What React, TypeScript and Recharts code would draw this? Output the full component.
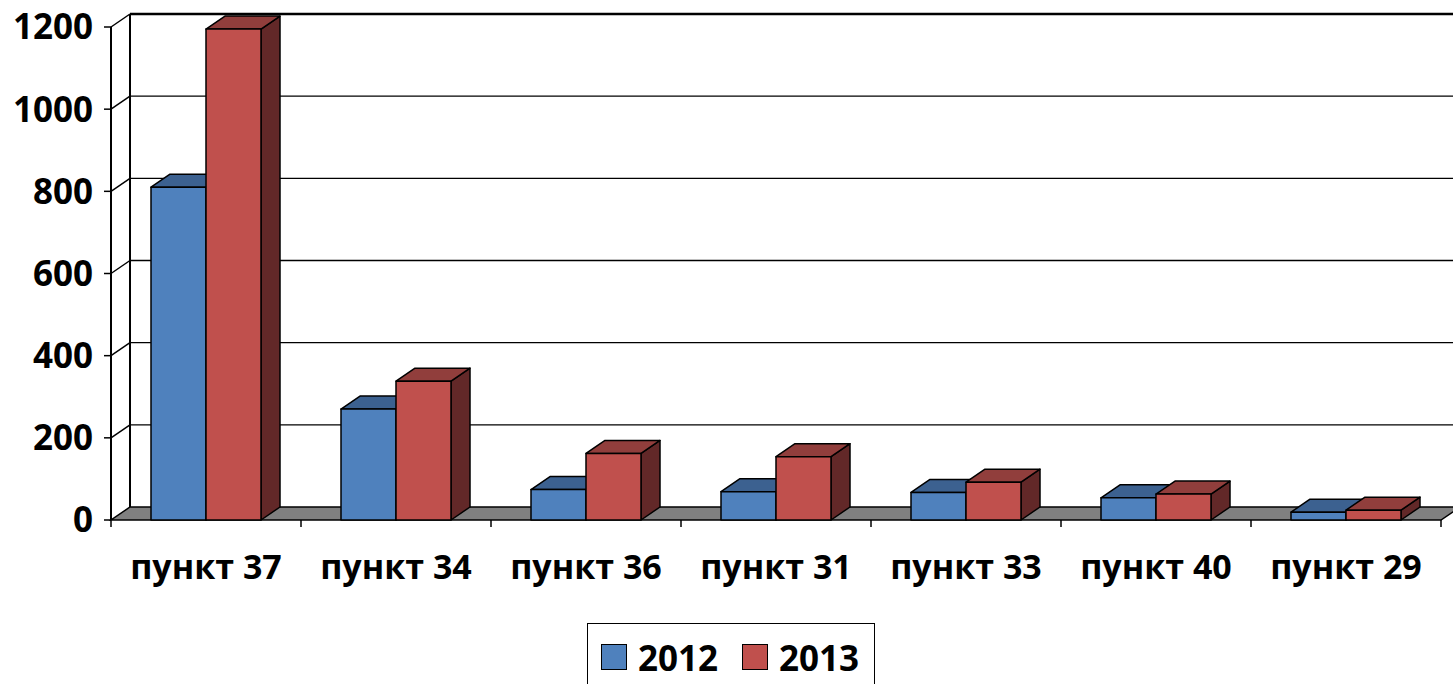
import React from 'react';
import { BarChart, Bar, XAxis, YAxis, CartesianGrid, Legend } from 'recharts';

const categories = ['пункт 37', 'пункт 34', 'пункт 36', 'пункт 31', 'пункт 33', 'пункт 40', 'пункт 29'];
const values2012 = [810, 270, 74, 69, 67, 54, 19];
const values2013 = [1195, 338, 162, 154, 92, 63, 24];
const yTicks = [0, 200, 400, 600, 800, 1000, 1200];
const seriesNames = ['2012', '2013'];

const data = categories.map((c, i) => ({ name: c, v2012: values2012[i], v2013: values2013[i] }));

const DX = 19;
const DY = 13;
const FONT = '"Open Sans", "Noto Sans", sans-serif';

const COLORS = {
  blue: { front: '#4F81BD', top: '#3C6190', side: '#2B4568' },
  red: { front: '#C0504D', top: '#913E3C', side: '#622828' },
};

const make3DBar = (c: { front: string; top: string; side: string }) => (props: any) => {
  const { x, y, width, height } = props;
  if (width == null || height == null) return <g />;
  const x2 = x + width;
  const yb = y + height;
  return (
    <g stroke="#000" strokeWidth={1.5} strokeLinejoin="round">
      <polygon points={`${x2},${y} ${x2 + DX},${y - DY} ${x2 + DX},${yb - DY} ${x2},${yb}`} fill={c.side} />
      <polygon points={`${x},${y} ${x2},${y} ${x2 + DX},${y - DY} ${x + DX},${y - DY}`} fill={c.top} />
      <rect x={x} y={y} width={width} height={height} fill={c.front} />
    </g>
  );
};

const gridLine = (props: any) => {
  const { x1, x2, y1, index } = props;
  const y = y1;
  const right = x2 + DX + 20;
  if (y >= 515) {
    return (
      <g key={`g-${index}`}>
        <polygon
          points={`${x1},${y} ${x2},${y} ${x2 + DX},${y - DY} ${right},${y - DY} ${x1 + DX},${y - DY}`}
          fill="#808080"
          stroke="#000"
          strokeWidth={1.5}
        />
      </g>
    );
  }
  const isTop = y < 35;
  return (
    <g key={`g-${index}`}>
      <line x1={x1} y1={y} x2={x1 + DX} y2={y - DY} stroke="#000" strokeWidth={1.5} />
      <line x1={x1 + DX} y1={y - DY} x2={right} y2={y - DY} stroke="#000" strokeWidth={isTop ? 2.5 : 1.3} />
      {isTop && (
        <line x1={x1 + DX} y1={y - DY} x2={x1 + DX} y2={507} stroke="#000" strokeWidth={2} />
      )}
    </g>
  );
};

const XTick = (props: any) => {
  const { x, y, payload, index } = props;
  const half = payload && payload.offset ? payload.offset : 95;
  const isLast = index === categories.length - 1;
  const ty = y - 8;
  return (
    <g>
      <line x1={x - half} y1={ty} x2={x - half} y2={ty + 7} stroke="#000" strokeWidth={1.5} />
      {isLast && <line x1={x + half} y1={ty} x2={x + half} y2={ty + 7} stroke="#000" strokeWidth={1.5} />}
      <text x={x} y={y + 51} textAnchor="middle" fontFamily={FONT} fontWeight={700} fontSize={34} fill="#000">
        {payload.value}
      </text>
    </g>
  );
};

const sq = (color: string) => (
  <span style={{ display: 'inline-block', width: 26, height: 26, background: color, border: '1.5px solid #000', boxSizing: 'border-box', marginRight: 11 }} />
);

const LegendContent = () => (
  <div
    style={{
      border: '1.5px solid #000',
      width: 288,
      height: 70,
      boxSizing: 'border-box',
      display: 'flex',
      alignItems: 'center',
      paddingLeft: 13,
      paddingBottom: 2,
      fontFamily: FONT,
      fontWeight: 700,
      fontSize: 35,
      background: '#fff',
    }}
  >
    {sq(COLORS.blue.front)}
    <span style={{ marginRight: 24 }}>{seriesNames[0]}</span>
    {sq(COLORS.red.front)}
    <span>{seriesNames[1]}</span>
  </div>
);

export default function App() {
  return (
    <div style={{ position: 'absolute', left: 0, top: 0, width: 1453, height: 684, overflow: 'hidden', background: '#fff' }}>
      <BarChart
        width={1453}
        height={684}
        data={data}
        margin={{ top: 27, right: 12, left: 0, bottom: 0 }}
        barCategoryGap={40}
        barGap={0}
      >
        <CartesianGrid vertical={false} horizontal={gridLine} />
        <XAxis dataKey="name" height={94} axisLine={false} tickLine={false} tick={<XTick />} interval={0} />
        <YAxis
          width={111}
          domain={[0, 1200]}
          ticks={yTicks}
          interval={0}
          axisLine={{ stroke: '#000', strokeWidth: 2 }}
          tickLine={{ stroke: '#000', strokeWidth: 1.5 }}
          tickSize={7}
          tickMargin={11}
          tick={{ fontFamily: FONT, fontWeight: 700, fontSize: 35, fill: '#000' }}
        />
        <Legend
          content={<LegendContent />}
          wrapperStyle={{ position: 'absolute', left: 587, top: 623, width: 288, height: 70 }}
        />
        <Bar dataKey="v2012" name={seriesNames[0]} isAnimationActive={false} shape={make3DBar(COLORS.blue)} />
        <Bar dataKey="v2013" name={seriesNames[1]} isAnimationActive={false} shape={make3DBar(COLORS.red)} />
      </BarChart>
    </div>
  );
}
